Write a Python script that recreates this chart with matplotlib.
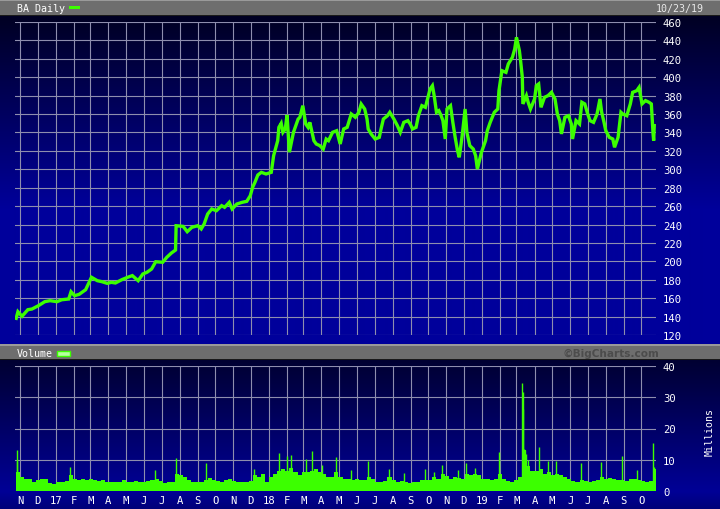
import matplotlib
matplotlib.use("Agg")
import matplotlib.pyplot as plt
import numpy as np
import pandas as pd
from matplotlib.patches import Rectangle

# --- data (approximate) ---
price_dates = [
    "2016-10-25", "2016-10-28", "2016-11-04", "2016-11-14", "2016-11-21", "2016-12-02",
    "2016-12-13", "2016-12-22", "2017-01-03", "2017-01-11", "2017-01-23", "2017-01-27",
    "2017-02-02", "2017-02-10", "2017-02-21", "2017-02-27", "2017-03-03", "2017-03-13",
    "2017-03-21", "2017-03-30", "2017-04-06", "2017-04-13", "2017-04-24", "2017-05-04",
    "2017-05-12", "2017-05-22", "2017-05-30", "2017-06-06", "2017-06-14", "2017-06-21",
    "2017-07-03", "2017-07-10", "2017-07-18", "2017-07-25", "2017-07-26", "2017-08-07",
    "2017-08-14", "2017-08-22", "2017-09-01", "2017-09-07", "2017-09-12", "2017-09-18",
    "2017-09-25", "2017-10-03", "2017-10-12", "2017-10-17", "2017-10-25", "2017-10-30",
    "2017-11-07", "2017-11-16", "2017-11-24", "2017-11-30", "2017-12-04", "2017-12-08",
    "2017-12-13", "2017-12-19", "2017-12-27", "2018-01-05", "2018-01-09", "2018-01-16",
    "2018-01-18", "2018-01-22", "2018-01-25", "2018-01-29", "2018-02-01", "2018-02-05",
    "2018-02-12", "2018-02-20", "2018-02-23", "2018-02-28", "2018-03-05", "2018-03-09",
    "2018-03-12", "2018-03-19", "2018-03-23", "2018-03-29", "2018-04-04", "2018-04-09",
    "2018-04-13", "2018-04-20", "2018-04-27", "2018-05-03", "2018-05-09", "2018-05-15",
    "2018-05-22", "2018-05-29", "2018-06-04", "2018-06-08", "2018-06-14", "2018-06-18",
    "2018-06-20", "2018-06-25", "2018-07-02", "2018-07-09", "2018-07-12", "2018-07-16",
    "2018-07-23", "2018-07-27", "2018-08-03", "2018-08-09", "2018-08-14", "2018-08-20",
    "2018-08-27", "2018-08-31", "2018-09-04", "2018-09-10", "2018-09-14", "2018-09-20",
    "2018-09-26", "2018-10-04", "2018-10-08", "2018-10-11", "2018-10-15", "2018-10-19",
    "2018-10-23", "2018-10-26", "2018-10-30", "2018-11-02", "2018-11-08", "2018-11-12",
    "2018-11-16", "2018-11-20", "2018-11-23", "2018-11-28", "2018-12-03", "2018-12-06",
    "2018-12-11", "2018-12-17", "2018-12-21", "2018-12-24", "2018-12-31", "2019-01-02",
    "2019-01-07", "2019-01-10", "2019-01-15", "2019-01-22", "2019-01-28", "2019-01-30",
    "2019-02-04", "2019-02-11", "2019-02-15", "2019-02-22", "2019-02-26", "2019-03-01",
    "2019-03-06", "2019-03-08", "2019-03-11", "2019-03-12", "2019-03-18", "2019-03-21",
    "2019-03-25", "2019-04-01", "2019-04-04", "2019-04-08", "2019-04-12", "2019-04-18",
    "2019-04-24", "2019-04-30", "2019-05-06", "2019-05-10", "2019-05-14", "2019-05-17",
    "2019-05-23", "2019-05-29", "2019-06-03", "2019-06-05", "2019-06-11", "2019-06-17",
    "2019-06-21", "2019-06-26", "2019-07-01", "2019-07-05", "2019-07-11", "2019-07-17",
    "2019-07-22", "2019-07-25", "2019-07-29", "2019-08-01", "2019-08-07", "2019-08-13",
    "2019-08-16", "2019-08-22", "2019-08-27", "2019-08-30", "2019-09-06", "2019-09-12",
    "2019-09-16", "2019-09-23", "2019-09-27", "2019-10-02", "2019-10-08", "2019-10-14",
    "2019-10-18", "2019-10-21", "2019-10-22", "2019-10-23",
]
price_close = [
    138.1, 145.3, 140.3, 147.5, 148.2, 151.8,
    156.2, 157.3, 156.2, 158.3, 159.1, 167.0,
    162.7, 164.2, 169.2, 177.2, 182.7, 179.0,
    177.9, 176.1, 177.2, 176.5, 180.1, 182.7,
    184.5, 179.0, 186.3, 188.1, 191.7, 199.6,
    199.0, 204.4, 209.1, 212.3, 238.7, 238.0,
    232.2, 237.0, 238.7, 235.2, 240.6, 251.4,
    256.9, 255.0, 260.5, 258.7, 264.1, 256.9,
    262.3, 264.1, 265.2, 271.3, 280.4, 285.9,
    293.8, 296.7, 294.9, 296.7, 314.8, 331.1,
    345.6, 350.0, 340.2, 343.8, 359.0, 318.5,
    340.2, 354.6, 356.5, 369.1, 349.2, 345.6,
    351.0, 331.1, 327.5, 325.7, 322.0, 332.9,
    331.1, 340.2, 341.9, 327.5, 343.8, 345.6,
    360.1, 356.5, 361.9, 370.9, 365.5, 354.6,
    343.8, 338.4, 332.9, 334.7, 343.8, 354.6,
    358.2, 361.9, 354.6, 347.4, 340.2, 351.0,
    352.8, 349.2, 343.8, 345.6, 358.2, 369.1,
    367.3, 387.2, 390.8, 380.0, 361.9, 363.7,
    358.2, 352.8, 332.9, 365.5, 369.1, 351.0,
    334.7, 320.2, 313.0, 336.5, 365.5, 340.2,
    325.7, 322.0, 314.8, 300.3, 318.5, 322.0,
    331.1, 341.9, 351.0, 361.9, 365.5, 385.4,
    407.1, 405.3, 414.4, 421.6, 430.7, 443.4,
    428.8, 418.0, 400.0, 371.0, 380.0, 372.8,
    365.5, 376.4, 390.8, 392.7, 367.3, 378.2,
    380.0, 383.6, 376.4, 360.1, 352.8, 338.4,
    356.5, 358.2, 349.2, 332.9, 352.8, 349.2,
    372.8, 371.0, 360.1, 352.8, 351.0, 360.1,
    376.4, 361.9, 351.0, 341.9, 334.7, 332.9,
    323.9, 334.7, 361.9, 360.1, 358.2, 371.0,
    383.6, 385.4, 389.0, 371.0, 374.6, 372.8,
    371.0, 338.4, 331.1, 347.4,
]

# weekly volume level (millions), weeks starting Monday 2016-10-24
vol_first_week = "2016-10-24"
vol_weekly = [
    6.0, 4.5, 4.0, 3.8, 3.0, 3.5, 4.0, 3.8, 2.5, 2.3,
    3.0, 3.0, 3.2, 5.0, 4.0, 3.5, 4.0, 3.6, 3.8, 3.5, 3.2, 3.4, 3.0,
    2.8, 2.8, 3.0, 3.6, 3.0, 2.8, 3.2, 3.0, 2.8, 3.2, 3.6, 3.8, 3.2,
    2.6, 2.8, 3.0, 5.5, 5.0, 4.5, 3.5, 3.0, 2.8, 3.0, 3.6, 4.2, 3.6,
    3.2, 3.0, 3.4, 4.0, 3.2, 3.0, 3.0, 2.8, 3.2, 5.0, 4.5, 5.5, 3.0,
    4.5, 5.5, 6.5, 7.0, 6.5, 7.5, 6.0, 5.0, 6.0, 6.0, 6.5, 7.0, 6.0,
    5.5, 4.5, 4.5, 6.0, 4.5, 4.0, 3.8, 3.5, 3.8, 3.5, 3.6, 4.5, 4.0,
    2.8, 3.0, 3.2, 4.5, 3.5, 2.8, 3.2, 2.8, 2.6, 2.8, 3.0, 3.6, 3.4,
    3.6, 4.5, 4.0, 5.5, 4.8, 3.8, 4.5, 4.2, 4.0, 5.5, 5.0, 5.5, 5.0, 4.0,
    4.0, 3.6, 3.8, 5.5, 3.8, 3.2, 3.0, 3.4, 4.5, 13.0, 8.0, 6.5,
    6.5, 7.0, 5.5, 6.0, 5.0, 5.5, 5.0, 4.5, 4.0, 3.2, 3.0, 3.5, 3.2,
    2.8, 3.2, 3.5, 4.5, 3.8, 4.2, 3.8, 3.5, 3.4, 3.2, 4.0, 3.8, 3.5, 3.2,
    3.0, 3.2, 7.0,
]

# single heavy-volume days (millions)
spike_dates = [
    "2016-10-26", "2016-10-27", "2017-01-25", "2017-06-19", "2017-07-26", "2017-09-15",
    "2017-12-06", "2018-01-18", "2018-02-01", "2018-02-08", "2018-03-05", "2018-03-15",
    "2018-04-02", "2018-04-25", "2018-05-22", "2018-06-19", "2018-07-25", "2018-08-20",
    "2018-09-25", "2018-10-10", "2018-10-24", "2018-11-20", "2018-12-04", "2018-12-20",
    "2019-01-30", "2019-03-11", "2019-03-12", "2019-03-13", "2019-03-14", "2019-03-15",
    "2019-03-18", "2019-03-20", "2019-04-08", "2019-04-24", "2019-05-07", "2019-06-20",
    "2019-07-24", "2019-08-28", "2019-09-24", "2019-10-21", "2019-10-22",
]
spike_vols = [
    13.2, 9.6, 7.6, 6.7, 10.6, 9.0,
    6.9, 12.2, 11.1, 11.5, 10.2, 12.9,
    8.2, 10.8, 6.6, 9.7, 7.0, 5.8,
    7.0, 6.0, 8.3, 6.8, 9.0, 7.4,
    12.6, 34.6, 31.6, 26.2, 13.4, 13.2,
    11.7, 9.9, 14.0, 9.5, 9.5, 9.0,
    9.2, 11.3, 6.8, 15.4, 7.8,
]

price_ticks = list(range(120, 461, 20))
volume_ticks = [0, 10, 20, 30, 40]
x_start, x_end = "2016-10-23", "2019-10-26"

GREEN = "#3cff00"
GRID = "#8e8eae"
W, H = 720, 510


def pixel_box(left, top, right, bottom):
    # figure-fraction rectangle from pixel edges
    return [left / W, 1 - bottom / H, (right - left) / W, (bottom - top) / H]


def background(fig):
    bg = fig.add_axes([0, 0, 1, 1])
    rows = np.arange(H)
    # vertical blue gradient: dark navy at the top of each panel
    ys = [0, 17, 210, 345, 361, 492, 510]
    blue = [40, 35, 155, 155, 50, 150, 120]
    b = np.interp(rows, ys, blue) / 255.0
    img = np.zeros((H, 1, 3))
    img[:, 0, 2] = b
    bg.imshow(img, aspect="auto", extent=[0, W, H, 0], interpolation="bilinear")
    bg.set_xlim(0, W)
    bg.set_ylim(H, 0)
    bg.axis("off")

    # grey header bars
    for top, bottom in [(0, 17), (345, 361)]:
        bg.add_patch(Rectangle((0, top), W, bottom - top, color="#6e6e6e", lw=0))
        bg.add_patch(Rectangle((0, top), W, 1.5, color="#9a9a9a", lw=0))
        bg.add_patch(Rectangle((0, bottom - 1.2), W, 1.2, color="#1a1a1a", lw=0))

    bg.text(17, 9, "BA Daily", color="white", fontsize=7.2, va="center", ha="left")
    bg.add_patch(Rectangle((69, 7), 11, 3, color=GREEN, lw=0))
    bg.text(704, 9, "10/23/19", color="#e8e8e8", fontsize=7.2, va="center", ha="right")

    bg.text(17, 354, "Volume", color="white", fontsize=7.2, va="center", ha="left")
    bg.add_patch(Rectangle((57, 351.5), 13, 5, facecolor="#b8ffa0", edgecolor=GREEN, lw=1))
    bg.text(659, 353.5, "\u00a9BigCharts.com", color="#4c4c4c", fontsize=7.6,
            fontweight="bold", family="DejaVu Sans", va="center", ha="right")

    bg.text(710, 432, "Millions", color="white", fontsize=7.2, rotation=90,
            va="center", ha="center")
    return bg


def style_panel(ax, yticks, ylim, months):
    ax.set_facecolor("none")
    for s in ax.spines.values():
        s.set_visible(False)
    ax.set_xlim(pd.Timestamp(x_start), pd.Timestamp(x_end))
    ax.set_ylim(*ylim)
    ax.set_yticks(yticks)
    ax.set_xticks(months)
    ax.yaxis.tick_right()
    ax.grid(True, color=GRID, lw=0.8)
    ax.set_axisbelow(True)
    ax.tick_params(length=0, labelcolor="white", labelsize=7.6, pad=5)


def main():
    plt.rcParams["font.family"] = ["DejaVu Sans Mono"]
    fig = plt.figure(figsize=(7.2, 5.1), dpi=100)
    background(fig)

    months = pd.date_range("2016-11-01", "2019-10-01", freq="MS")
    month_labels = [m.strftime("%y") if m.month == 1 else m.strftime("%b")[0] for m in months]

    # price panel
    ax1 = fig.add_axes(pixel_box(15, 23, 656, 336))
    style_panel(ax1, price_ticks, (120, 460), months)
    ax1.set_xticklabels([])
    ax1.plot(pd.to_datetime(price_dates), price_close, color=GREEN, lw=2.4,
             solid_joinstyle="miter")

    # volume panel
    ax2 = fig.add_axes(pixel_box(15, 367, 656, 492))
    style_panel(ax2, volume_ticks, (0, 40), months)
    ax2.set_xticklabels(month_labels)
    ax2.tick_params(axis="x", pad=3)
    weeks = pd.date_range(vol_first_week, periods=len(vol_weekly), freq="7D")
    ax2.bar(weeks, vol_weekly, width=7, align="edge", color=GREEN, lw=0)
    ax2.vlines(pd.to_datetime(spike_dates), 0, spike_vols, color=GREEN, lw=1.0)

    fig.savefig("out.png", dpi=100)


if __name__ == "__main__":
    main()
